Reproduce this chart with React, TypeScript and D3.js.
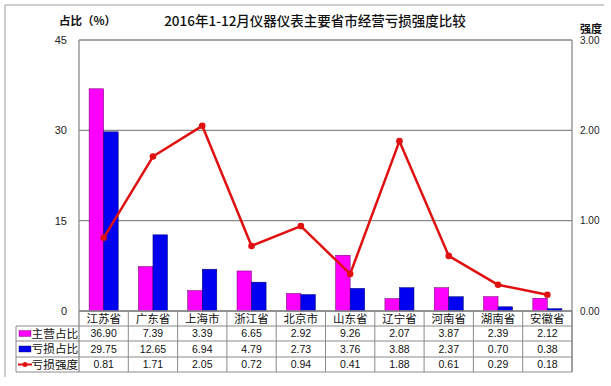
import * as d3 from 'd3';

// Data
const provinces = ['江苏省', '广东省', '上海市', '浙江省', '北京市', '山东省', '辽宁省', '河南省', '湖南省', '安徽省'];
const mainShare = [36.9, 7.39, 3.39, 6.65, 2.92, 9.26, 2.07, 3.87, 2.39, 2.12];
const lossShare = [29.75, 12.65, 6.94, 4.79, 2.73, 3.76, 3.88, 2.37, 0.7, 0.38];
const lossIntensity = [0.81, 1.71, 2.05, 0.72, 0.94, 0.41, 1.88, 0.61, 0.29, 0.18];
const leftTicks = [0, 15, 30, 45];
const rightTicks = [0, 1, 2, 3];
const seriesNames = ['主营占比', '亏损占比', '亏损强度'];

const W = 611;
const H = 386;
const margin = { top: 40, right: 39, bottom: 75, left: 79 };
const plotRight = W - margin.right;
const plotBottom = H - margin.bottom;

const PINK = '#FF00FF';
const BLUE = '#0000F0';
const RED = '#E01010';
const GRID = '#8a8a8a';
const CJK = '"Noto Sans CJK SC", "Noto Sans", sans-serif';
const NUM = '"Liberation Sans", Arial, sans-serif';

export default function App() {
  const x = d3.scaleBand<string>().domain(provinces).range([margin.left, plotRight]);
  const bw = x.bandwidth();
  const inner = d3.scaleBand<string>()
    .domain(['main', 'loss'])
    .range([bw * 0.205, bw * 0.795]);
  const yLeft = d3.scaleLinear().domain([0, 45]).range([plotBottom, margin.top]);
  const yRight = d3.scaleLinear().domain([0, 3]).range([plotBottom, margin.top]);

  const line = d3.line<number>()
    .x((_, i) => (x(provinces[i]) as number) + bw / 2)
    .y(d => yRight(d));

  // table geometry
  const tableLeft = 16;
  const rowTops = [326, 341, 357, 372];
  const rowValues = [mainShare, lossShare, lossIntensity];
  const fmt = d3.format('.2f');

  return (
    <svg width={W} height={H} style={{ display: 'block', position: 'absolute', left: 0, top: 0, background: '#fff' }}>
      <rect width={W} height={H} fill="#fff" />
      {/* outer frame */}
      <line x1={5} y1={5} x2={604} y2={5} stroke="#9a9a9a" />
      <line x1={5} y1={5} x2={5} y2={377} stroke="#9a9a9a" />

      {/* titles */}
      <text x={315} y={26} textAnchor="middle" fontFamily={CJK} fontSize={13.5} fontWeight={500} fill="#111">
        2016年1-12月仪器仪表主要省市经营亏损强度比较
      </text>
      <text x={59} y={25} fontFamily={CJK} fontSize={11.5} fontWeight="bold" fill="#111">占比（%）</text>
      <text x={580} y={33} fontFamily={CJK} fontSize={11} fontWeight="bold" fill="#111">强度</text>

      {/* gridlines */}
      {leftTicks.map(t => (
        <line key={t} x1={margin.left} x2={plotRight} y1={yLeft(t)} y2={yLeft(t)} stroke={GRID} strokeWidth={1.3} />
      ))}
      <line x1={margin.left} x2={margin.left} y1={margin.top} y2={rowTops[3]} stroke={GRID} strokeWidth={1.3} />
      <line x1={plotRight} x2={plotRight} y1={margin.top} y2={rowTops[3]} stroke={GRID} strokeWidth={1.3} />

      {/* left axis labels */}
      {leftTicks.map(t => (
        <text key={t} x={67} y={yLeft(t) + 4} textAnchor="end" fontFamily={NUM} fontSize={11} fill="#222">{t}</text>
      ))}
      {/* right axis labels */}
      {rightTicks.map(t => (
        <text key={t} x={580} y={yRight(t) + 3.5} fontFamily={NUM} fontSize={10} fill="#222">{fmt(t)}</text>
      ))}

      {/* bars */}
      {provinces.map((p, i) => {
        const x0 = x(p) as number;
        return (
          <g key={p}>
            <rect x={x0 + (inner('main') as number)} y={yLeft(mainShare[i])} width={inner.bandwidth()}
              height={plotBottom - yLeft(mainShare[i])} fill={PINK} stroke="#6a006a" strokeWidth={0.5} />
            <rect x={x0 + (inner('loss') as number)} y={yLeft(lossShare[i])} width={inner.bandwidth()}
              height={plotBottom - yLeft(lossShare[i])} fill={BLUE} stroke="#000060" strokeWidth={0.5} />
          </g>
        );
      })}

      {/* intensity line */}
      <path d={line(lossIntensity) as string} fill="none" stroke={RED} strokeWidth={2.5} strokeLinejoin="round" />
      {lossIntensity.map((v, i) => (
        <circle key={i} cx={(x(provinces[i]) as number) + bw / 2} cy={yRight(v)} r={3.3} fill={RED} />
      ))}

      {/* data table */}
      {provinces.map(p => (
        <line key={p} x1={(x(p) as number) + bw} x2={(x(p) as number) + bw} y1={plotBottom} y2={rowTops[3]} stroke={GRID} />
      ))}
      {rowTops.map(t => (
        <line key={t} x1={tableLeft} x2={plotRight} y1={t} y2={t} stroke={GRID} />
      ))}
      <line x1={tableLeft} x2={tableLeft} y1={rowTops[0]} y2={rowTops[3]} stroke={GRID} />
      <line x1={margin.left} x2={plotRight} y1={plotBottom} y2={plotBottom} stroke={GRID} strokeWidth={1.3} />

      {provinces.map(p => (
        <text key={p} x={(x(p) as number) + bw / 2} y={323} textAnchor="middle" fontFamily={CJK} fontSize={11.5} fill="#111">{p}</text>
      ))}

      {rowValues.map((vals, r) => {
        const cy = (rowTops[r] + rowTops[r + 1]) / 2;
        return (
          <g key={r}>
            {r === 0 && <rect x={19} y={cy - 3} width={12} height={6} fill={PINK} stroke="#6a006a" strokeWidth={0.4} />}
            {r === 1 && <rect x={19} y={cy - 3} width={12} height={6} fill={BLUE} stroke="#000060" strokeWidth={0.4} />}
            {r === 2 && (
              <g>
                <line x1={18} x2={32} y1={cy} y2={cy} stroke={RED} strokeWidth={2} />
                <circle cx={25} cy={cy} r={2.5} fill={RED} />
              </g>
            )}
            <text x={31.5} y={cy + 4.2} fontFamily={CJK} fontSize={11.7} fill="#111">{seriesNames[r]}</text>
            {vals.map((v, i) => (
              <text key={i} x={(x(provinces[i]) as number) + bw / 2} y={cy + 3.8} textAnchor="middle"
                fontFamily={NUM} fontSize={10.5} fill="#111">{fmt(v)}</text>
            ))}
          </g>
        );
      })}
    </svg>
  );
}
